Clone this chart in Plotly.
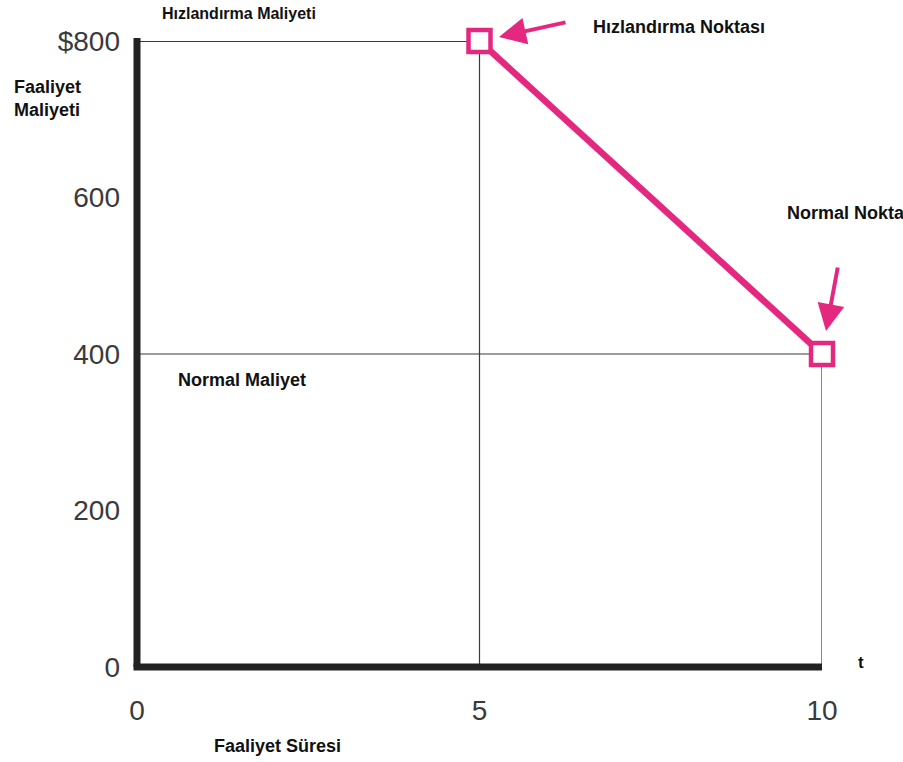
import plotly.graph_objects as go

# Time-cost trade-off for a single activity
durations = [5, 10]          # activity duration (t)
costs = [800, 400]           # activity cost ($)
x_ticks = [0, 5, 10]
x_tick_text = ["0", "5", "10"]
y_ticks = [0, 200, 400, 600, 800]
y_tick_text = ["0", "200", "400", "600", "$800"]

PINK = "#E5287F"
AXIS = "#222222"
GRID = "#3a3a3a"
TICK_FONT = dict(family="Liberation Sans", size=28, color="#3a3a3a")

W, H = 903, 762
L, R, T, B = 137, 81, 41, 95
pw, ph = W - L - R, H - T - B


def px(x):
    """Pixel column -> paper x."""
    return (x - L) / pw


def py(y):
    """Pixel row -> paper y."""
    return (H - B - y) / ph


fig = go.Figure()

fig.add_trace(go.Scatter(
    x=durations, y=costs, mode="lines+markers",
    line=dict(color=PINK, width=6.5),
    marker=dict(symbol="square", size=22, color="white",
                line=dict(color=PINK, width=4.5)),
    cliponaxis=False, hoverinfo="skip", showlegend=False,
))

shapes = [
    # reference lines through the crash and normal points
    dict(type="line", x0=0, x1=durations[0], y0=costs[0], y1=costs[0], w=2),
    dict(type="line", x0=0, x1=durations[1], y0=costs[1], y1=costs[1], w=1.2),
    dict(type="line", x0=durations[0], x1=durations[0], y0=0, y1=costs[0], w=1.2),
    dict(type="line", x0=durations[1], x1=durations[1], y0=0, y1=costs[1], w=1.2),
]
for s in shapes:
    s.update(xref="x", yref="y", line=dict(color=GRID, width=s.pop("w")),
             layer="below")
# heavy axes (paper-referenced so they are not clipped at the plot edge)
shapes += [
    dict(type="line", xref="paper", yref="paper", x0=0, x1=0, y0=0, y1=py(38),
         line=dict(color=AXIS, width=7)),
    dict(type="line", xref="paper", yref="paper", x0=px(133.5), x1=1, y0=0, y1=0,
         line=dict(color=AXIS, width=7)),
]

labels = [
    ("<b>Hızlandırma Maliyeti</b>", 160, 13, 16),
    ("<b>Faaliyet<br>Maliyeti</b>", 12, 98, 18),
    ("<b>Hızlandırma Noktası</b>", 591, 27, 18),
    ("<b>Normal Nokta</b>", 785, 213, 18),
    ("<b>Normal Maliyet</b>", 176, 380, 18),
    ("<b>Faaliyet Süresi</b>", 212, 746, 18),
    ("<b>t</b>", 856, 662, 17),
]
annotations = [
    dict(text=t, x=px(x), y=py(y), xref="paper", yref="paper", showarrow=False,
         xanchor="left", yanchor="middle", align="left",
         font=dict(family="Liberation Sans", size=sz, color="#111111"))
    for t, x, y, sz in labels
]

# pointer arrows (head position in pixels, tail offset in pixels)
for hx, hy, ax, ay in [(499, 37, 68, -15), (826, 331, 12, -65)]:
    annotations.append(dict(
        x=px(hx), y=py(hy), xref="paper", yref="paper", ax=ax, ay=ay,
        showarrow=True, arrowhead=2, arrowsize=1.35, arrowwidth=4,
        arrowcolor=PINK, text=""))

fig.update_layout(
    width=W, height=H, autosize=False,
    margin=dict(l=L, r=R, t=T, b=B, pad=0),
    paper_bgcolor="white", plot_bgcolor="white",
    shapes=shapes, annotations=annotations,
    xaxis=dict(range=[0, 10], tickvals=x_ticks, ticktext=x_tick_text,
               showgrid=False, zeroline=False, showline=False, ticks="",
               ticklabelstandoff=24, tickfont=TICK_FONT),
    yaxis=dict(range=[0, 800], tickvals=y_ticks, ticktext=y_tick_text,
               showgrid=False, zeroline=False, showline=False, ticks="",
               ticklabelstandoff=16, tickfont=TICK_FONT),
)

fig.write_html("out.html")
